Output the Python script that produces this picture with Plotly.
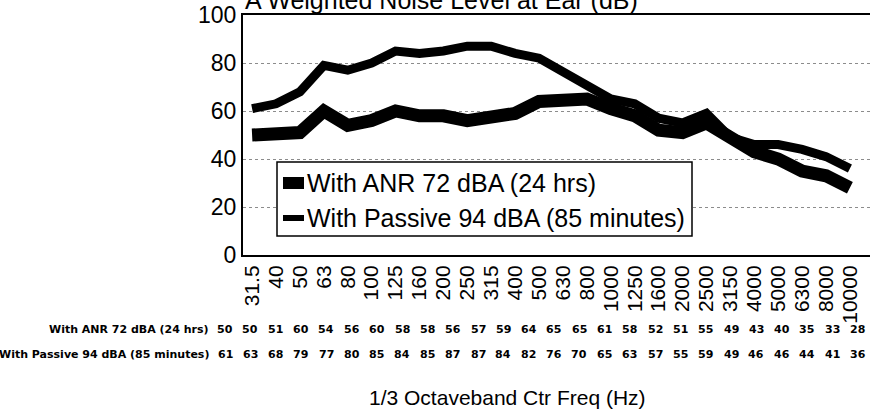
import plotly.graph_objects as go

# 1/3 octave band centre frequencies (Hz)
freqs = ["31.5", "40", "50", "63", "80", "100", "125", "160", "200", "250", "315",
         "400", "500", "630", "800", "1000", "1250", "1600", "2000", "2500",
         "3150", "4000", "5000", "6300", "8000", "10000"]

# A weighted noise level at ear (dB)
anr = [50, 50, 51, 60, 54, 56, 60, 58, 58, 56, 57, 59, 64, 65, 65, 61, 58, 52, 51, 55,
       49, 43, 40, 35, 33, 28]
passive = [61, 63, 68, 79, 77, 80, 85, 84, 85, 87, 87, 84, 82, 76, 70, 65, 63, 57, 55, 59,
           49, 46, 46, 44, 41, 36]

anr_name = "With ANR 72 dBA (24 hrs)"
passive_name = "With Passive 94 dBA (85 minutes)"

W, H = 873, 416
L, R, T, B = 243, 3, 15, 161


def px_x(p):
    return (p - L) / (W - L - R)


def px_y(p):
    return (H - B - p) / (H - T - B)


fig = go.Figure()

fig.add_trace(go.Scatter(x=freqs, y=anr, name=anr_name, mode="lines",
                         line=dict(color="black", width=13), showlegend=False))
fig.add_trace(go.Scatter(x=freqs, y=passive, name=passive_name, mode="lines",
                         line=dict(color="black", width=9), showlegend=False))

annotations = []
shapes = []

# chart title, cut off at the top edge like the scan
annotations.append(dict(text="A Weighted Noise Level at Ear (dB)", xref="paper", yref="paper",
                        x=0, y=px_y(16), xanchor="left", yanchor="bottom", showarrow=False,
                        font=dict(size=25, color="black")))

# legend box drawn by hand (short keys like the original)
shapes.append(dict(type="rect", xref="paper", yref="paper",
                   x0=px_x(277), x1=px_x(692), y0=px_y(236), y1=px_y(162),
                   line=dict(color="black", width=1.5), fillcolor="white", layer="above"))
shapes.append(dict(type="rect", xref="paper", yref="paper",
                   x0=px_x(283), x1=px_x(304), y0=px_y(189), y1=px_y(177),
                   line=dict(width=0), fillcolor="black", layer="above"))
shapes.append(dict(type="line", xref="paper", yref="paper",
                   x0=px_x(283), x1=px_x(304), y0=px_y(218), y1=px_y(218),
                   line=dict(color="black", width=6), layer="above"))
for label, ypix in [(anr_name, 183), (passive_name, 218)]:
    annotations.append(dict(text=label, xref="paper", yref="paper", x=px_x(305), y=px_y(ypix),
                            xanchor="left", yanchor="middle", showarrow=False,
                            font=dict(size=25, color="black")))

# data table under the chart
table_font = dict(family="DejaVu Sans", size=11, color="black", weight="bold")
rows = [(anr_name, anr, 329), (passive_name, passive, 354)]
for label, vals, ypix in rows:
    annotations.append(dict(text=label, xref="paper", yref="paper", x=px_x(211), y=px_y(ypix),
                            xanchor="right", yanchor="middle", showarrow=False, font=table_font))
    for i, v in enumerate(vals):
        annotations.append(dict(text=str(v), xref="paper", yref="paper",
                                x=px_x(225 + i * 25.3), y=px_y(ypix),
                                xanchor="center", yanchor="middle", showarrow=False,
                                font=table_font))

annotations.append(dict(text="1/3 Octaveband Ctr Freq (Hz)", xref="paper", yref="paper",
                        x=px_x(507), y=px_y(397), xanchor="center", yanchor="middle",
                        showarrow=False, font=dict(size=21, color="black")))

fig.update_layout(
    width=W, height=H,
    margin=dict(l=L, r=R, t=T, b=B, autoexpand=False),
    paper_bgcolor="white", plot_bgcolor="white",
    font=dict(family="Liberation Sans, Arial, sans-serif", color="black"),
    showlegend=False,
    annotations=annotations,
    shapes=shapes,
)

fig.update_xaxes(type="category", range=[-0.38, 25.84], tickangle=-90,
                 tickmode="array", tickvals=freqs, ticktext=freqs,
                 tickfont=dict(size=21, color="black"), showgrid=False,
                 showline=True, linecolor="black", linewidth=2, mirror=True,
                 ticks="", zeroline=False, automargin=False)
fig.update_yaxes(range=[0, 100], tickvals=[0, 20, 40, 60, 80, 100],
                 tickfont=dict(size=23, color="black"), showgrid=True,
                 gridcolor="#8c8c8c", griddash="dot", gridwidth=1,
                 showline=True, linecolor="black", linewidth=2, ticks="", zeroline=False,
                 automargin=False)

# page body has a default margin; drop it so the figure sits at the window's corner
fig.write_html("out.html", config={"displayModeBar": False},
               post_script="document.body.style.margin='0';")
